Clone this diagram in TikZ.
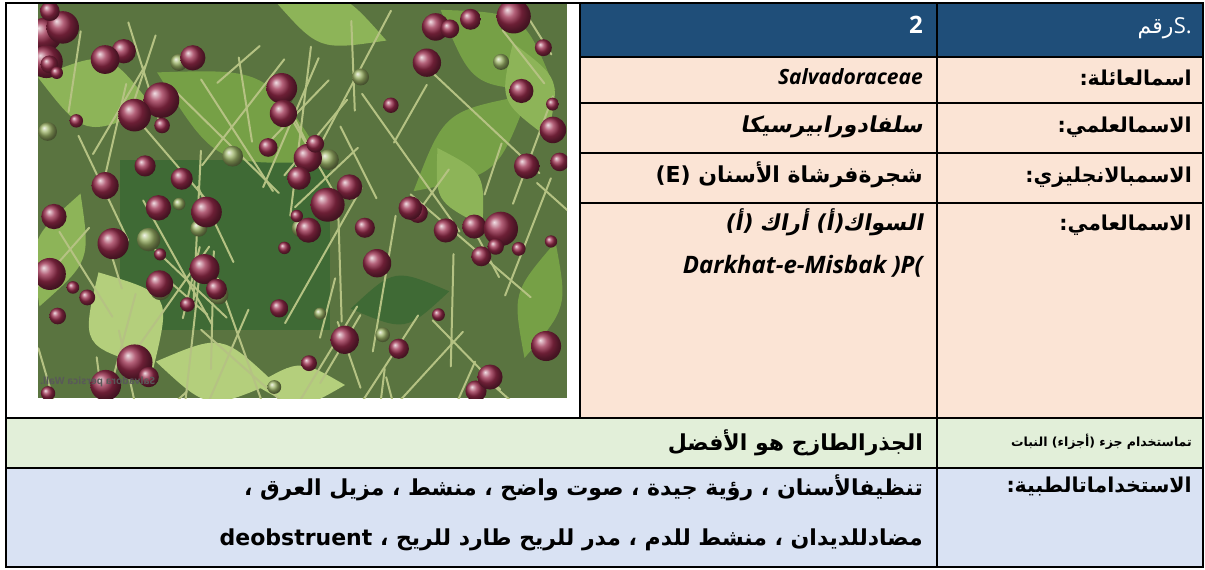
\documentclass[tikz,border=0pt]{standalone}
\usepackage{fontspec}
\usepackage{graphicx}
\setmainfont{Open Sans}
\newfontfamily\arabicfont[Script=Arabic]{DejaVu Sans}
\newfontfamily\arabicslant[Script=Arabic,FakeSlant=0.18]{DejaVu Sans}
\TeXXeTstate=1
\definecolor{hdrblue}{HTML}{1F4E79}
\definecolor{peach}{HTML}{FBE4D5}
\definecolor{palegreen}{HTML}{E2EFD9}
\definecolor{paleblue}{HTML}{D9E2F3}
\definecolor{photobg}{HTML}{5A7440}
\definecolor{leafA}{HTML}{76A046}
\definecolor{leafB}{HTML}{8DB458}
\definecolor{leafC}{HTML}{B4CF7C}
\definecolor{leafD}{HTML}{3F6A35}
\definecolor{stemc}{HTML}{B5C283}
\definecolor{berry}{HTML}{9A2C4C}
\definecolor{berryg}{HTML}{9DB467}
\begin{document}
\begin{tikzpicture}[x=1pt,y=-1pt,
  gridline/.style={line width=1.8pt,black},
  lbl/.style={anchor=base east,inner sep=0pt,font=\fontsize{20.5}{24}\selectfont\arabicfont\bfseries},
  lblsmall/.style={anchor=base east,inner sep=0pt,font=\fontsize{12.5}{15}\selectfont\arabicfont\bfseries},
  val/.style={anchor=base east,inner sep=0pt,font=\fontsize{22}{26}\selectfont\arabicfont\bfseries},
  valit/.style={anchor=base east,inner sep=0pt,font=\fontsize{22}{26}\selectfont\arabicslant\bfseries},
  vallat/.style={anchor=base east,inner sep=0pt,font=\fontsize{21}{24}\selectfont\bfseries\itshape},
  hdr/.style={anchor=base east,inner sep=0pt,text=white,font=\fontsize{24}{26}\selectfont\bfseries},
  hdrlbl/.style={anchor=base east,inner sep=0pt,text=white,font=\fontsize{22}{24}\selectfont\arabicfont},
  hdrlat/.style={anchor=base east,inner sep=0pt,text=white,font=\fontsize{22}{24}\selectfont},
  stem/.style={stemc,line width=2pt,line cap=round},
  leaf/.style={fill=#1}]
\useasboundingbox (0,0) rectangle (1205,570);
\fill[white] (0,0) rectangle (1205,570);
% cell fills
\fill[hdrblue] (580,3) rectangle (1203,57);
\fill[peach] (580,57) rectangle (1203,418);
\fill[palegreen] (6,418) rectangle (1203,468);
\fill[paleblue] (6,468) rectangle (1203,567);
% photo
\begin{scope}
\clip (38,3) rectangle (567,398);
\fill[photobg] (38,3) rectangle (567,398);
\fill[leafD] (120,160) rectangle (330,330);
\foreach \x/\y/\a/\l/\w/\c in {
  241/117/-28/95/42/leafA, 498/50/-35/70/35/leafA, 96/93/-15/60/35/leafB,
  471/143/40/75/32/leafA, 126/320/-60/55/40/leafC, 215/372/-10/60/30/leafC,
  460/187/-60/45/22/leafB, 180/220/20/70/40/leafD, 330/20/-20/60/25/leafB,
  60/250/70/60/25/leafB, 540/300/75/60/22/leafA, 400/300/10/50/25/leafD,
  300/385/0/45/20/leafC, 530/90/-70/50/25/leafB}
  {\fill[leaf=\c, rotate around={\a:(\x,\y)}] ({\x-\l},\y) .. controls (\x,{\y-1.3*\w}) .. ({\x+\l},\y) .. controls (\x,{\y+1.3*\w}) .. cycle;}
\pgfmathsetseed{11}
\foreach \i in {1,...,70}{
  \pgfmathsetmacro{\xa}{38+529*rnd}
  \pgfmathsetmacro{\ya}{3+395*rnd}
  \pgfmathsetmacro{\ang}{40+100*rnd}
  \pgfmathsetmacro{\len}{50+130*rnd}
  \draw[stem] (\xa,\ya) -- ++(\ang:\len);}
\foreach \i in {1,...,16}{
  \pgfmathsetmacro{\bx}{45+515*rnd}
  \pgfmathsetmacro{\by}{60+330*rnd}
  \pgfmathsetmacro{\br}{6+6*rnd}
  \shade[ball color=berryg] (\bx,\by) circle ({\br pt});}
\foreach \i in {1,...,75}{
  \pgfmathsetmacro{\bx}{45+515*rnd}
  \pgfmathsetmacro{\by}{10+385*rnd}
  \pgfmathsetmacro{\br}{6+12*rnd}
  \shade[ball color=berry] (\bx,\by) circle ({\br pt});}
\node[anchor=west,inner sep=0pt,text=black!65,font=\fontsize{10}{11}\selectfont\bfseries] (wm) at (40,382) {\reflectbox{Salvadora persica Wall.}};
\end{scope}
% grid
\draw[gridline] (6,3) rectangle (1203,567);
\draw[gridline] (580,3) -- (580,418);
\draw[gridline] (937,3) -- (937,567);
\draw[gridline] (580,57) -- (1203,57);
\draw[gridline] (580,103) -- (1203,103);
\draw[gridline] (580,153) -- (1203,153);
\draw[gridline] (580,203) -- (1203,203);
\draw[gridline] (6,418) -- (1203,418);
\draw[gridline] (6,468) -- (1203,468);
% header
\node[hdr] (num) at (923,33) {2};
\node[hdrlat] (snos) at (1192,33) {S.};
\node[hdrlbl] (snoar) at (snos.base west) {\beginR رقم\endR};
% labels
\node[lbl] (lfam) at (1192,85) {\beginR اسمالعائلة:\endR};
\node[lbl] (lsci) at (1192,132) {\beginR الاسمالعلمي:\endR};
\node[lbl] (leng) at (1192,182) {\beginR الاسمبالانجليزي:\endR};
\node[lbl] (lcom) at (1192,230) {\beginR الاسمالعامي:\endR};
\node[lblsmall] (lpart) at (1192,446) {\beginR تماستخدام جزء (أجزاء) النبات\endR};
\node[lbl] (luse) at (1192,492) {\beginR الاستخداماتالطبية:\endR};
% values
\node[vallat] (vfam) at (923,84) {Salvadoraceae};
\node[valit] (vsci) at (923,132) {\beginR سلفادورابيرسيكا\endR};
\node[val] (veng) at (923,182) {\beginR شجرةفرشاة الأسنان \beginL(E)\endL\endR};
\node[valit] (vcom) at (923,230) {\beginR السواك(أ) أراك (أ)\endR};
\node[vallat,font=\fontsize{24}{26}\selectfont\bfseries\itshape] (vcomb) at (923,273) {Darkhat-e-Misbak )P(};
\node[val] (vpart) at (923,450) {\beginR الجذرالطازج هو الأفضل\endR};
\node[val] (vusea) at (923,495) {\beginR تنظيفالأسنان ، رؤية جيدة ، صوت واضح ، منشط ، مزيل العرق ،\endR};
\node[val] (vuseb) at (923,545) {\beginR مضادللديدان ، منشط للدم ، مدر للريح طارد للريح ، \beginL deobstruent\endL\endR};
\end{tikzpicture}
\end{document}
